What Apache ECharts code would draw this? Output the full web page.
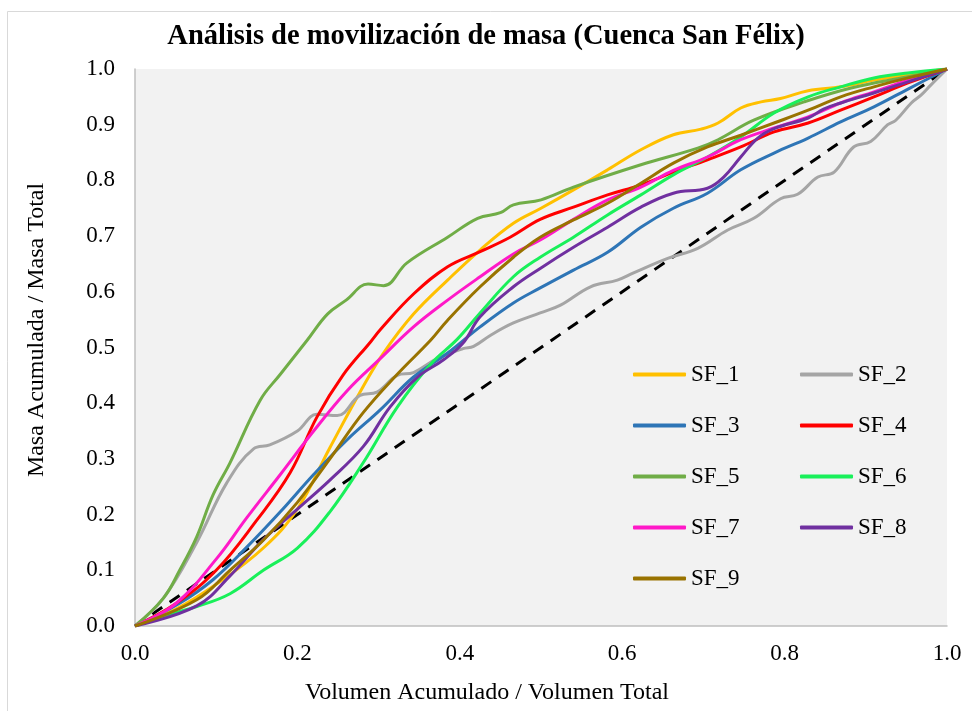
<!DOCTYPE html>
<html><head><meta charset="utf-8">
<script src="https://cdn.jsdelivr.net/npm/echarts@6/dist/echarts.min.js"></script>
<style>html,body{margin:0;padding:0;background:#fff}#c{width:972px;height:711px}</style>
</head><body><div id="c"></div>
<script>
const titleText = 'Análisis de movilización de masa (Cuenca San Félix)';
const xName = 'Volumen Acumulado / Volumen Total';
const yName = 'Masa Acumulada / Masa Total';
const seriesNames = ['SF_1','SF_2','SF_3','SF_4','SF_5','SF_6','SF_7','SF_8','SF_9'];
const legendLeftCol = ['SF_1','SF_3','SF_5','SF_7','SF_9'];
const legendRightCol = ['SF_2','SF_4','SF_6','SF_8'];
const colors = ['#FFC000','#A5A5A5','#2E75B6','#FF0000','#70AD47','#19F05A','#FF19C8','#7030A0','#997300'];

const sf1 = [[0,0],[0.05,0.03],[0.1,0.075],[0.158,0.14],[0.2,0.21],[0.24,0.32],[0.281,0.43],[0.306,0.49],[0.343,0.56],[0.385,0.621],[0.425,0.675],[0.466,0.723],[0.5,0.75],[0.54,0.783],[0.582,0.819],[0.623,0.855],[0.663,0.882],[0.697,0.892],[0.718,0.903],[0.746,0.93],[0.771,0.941],[0.795,0.947],[0.829,0.961],[0.869,0.968],[0.91,0.98],[0.952,0.99],[1,1]];
const sf2 = [[0,0],[0.035,0.05],[0.076,0.15],[0.113,0.257],[0.146,0.318],[0.166,0.325],[0.2,0.35],[0.224,0.38],[0.249,0.378],[0.277,0.414],[0.298,0.42],[0.323,0.45],[0.343,0.455],[0.372,0.48],[0.404,0.498],[0.417,0.502],[0.438,0.522],[0.466,0.544],[0.499,0.562],[0.524,0.576],[0.561,0.609],[0.594,0.621],[0.614,0.634],[0.656,0.66],[0.693,0.678],[0.73,0.711],[0.762,0.732],[0.795,0.767],[0.816,0.775],[0.841,0.806],[0.861,0.815],[0.885,0.86],[0.906,0.87],[0.927,0.9],[0.937,0.908],[0.956,0.939],[0.968,0.953],[0.98,0.971],[1,1]];
const sf3 = [[0,0],[0.055,0.041],[0.096,0.083],[0.138,0.142],[0.179,0.205],[0.22,0.272],[0.261,0.334],[0.302,0.388],[0.343,0.447],[0.385,0.49],[0.425,0.537],[0.466,0.58],[0.499,0.607],[0.54,0.639],[0.582,0.671],[0.623,0.716],[0.663,0.75],[0.705,0.777],[0.746,0.819],[0.787,0.849],[0.829,0.876],[0.869,0.905],[0.91,0.932],[0.952,0.964],[1,1]];
const sf4 = [[0,0],[0.05,0.04],[0.1,0.1],[0.15,0.19],[0.191,0.275],[0.224,0.375],[0.256,0.45],[0.29,0.51],[0.302,0.532],[0.343,0.596],[0.385,0.645],[0.425,0.672],[0.462,0.698],[0.499,0.73],[0.54,0.752],[0.582,0.774],[0.623,0.792],[0.663,0.815],[0.705,0.837],[0.746,0.86],[0.787,0.887],[0.829,0.903],[0.869,0.926],[0.91,0.95],[0.952,0.975],[1,1]];
const sf5 = [[0,0],[0.035,0.05],[0.055,0.1],[0.076,0.16],[0.096,0.235],[0.117,0.293],[0.154,0.405],[0.179,0.452],[0.212,0.513],[0.237,0.56],[0.26,0.585],[0.287,0.614],[0.306,0.611],[0.335,0.652],[0.385,0.698],[0.422,0.732],[0.45,0.742],[0.466,0.756],[0.5,0.765],[0.54,0.788],[0.623,0.828],[0.693,0.858],[0.718,0.873],[0.762,0.908],[0.824,0.941],[0.882,0.966],[0.952,0.986],[1,1]];
const sf6 = [[0,0],[0.035,0.018],[0.076,0.035],[0.117,0.058],[0.158,0.1],[0.2,0.14],[0.24,0.205],[0.281,0.293],[0.323,0.393],[0.364,0.47],[0.397,0.515],[0.425,0.562],[0.466,0.627],[0.499,0.662],[0.54,0.698],[0.582,0.738],[0.623,0.774],[0.663,0.81],[0.705,0.842],[0.746,0.878],[0.787,0.921],[0.829,0.95],[0.869,0.968],[0.91,0.984],[0.952,0.993],[1,1]];
const sf7 = [[0,0],[0.05,0.04],[0.1,0.12],[0.138,0.195],[0.179,0.272],[0.22,0.35],[0.261,0.422],[0.302,0.48],[0.343,0.537],[0.385,0.585],[0.425,0.627],[0.466,0.668],[0.499,0.693],[0.54,0.73],[0.582,0.765],[0.623,0.788],[0.663,0.818],[0.705,0.842],[0.746,0.873],[0.787,0.894],[0.829,0.914],[0.869,0.939],[0.91,0.959],[0.952,0.98],[1,1]];
const sf8 = [[0,0],[0.076,0.036],[0.117,0.09],[0.158,0.155],[0.2,0.21],[0.24,0.262],[0.281,0.322],[0.314,0.393],[0.348,0.447],[0.38,0.478],[0.404,0.508],[0.425,0.555],[0.466,0.609],[0.499,0.642],[0.54,0.68],[0.582,0.716],[0.623,0.752],[0.663,0.777],[0.705,0.786],[0.725,0.806],[0.746,0.842],[0.767,0.876],[0.787,0.893],[0.829,0.912],[0.848,0.928],[0.869,0.939],[0.91,0.957],[0.952,0.977],[1,1]];
const sf9 = [[0,0],[0.076,0.047],[0.117,0.1],[0.158,0.154],[0.2,0.222],[0.24,0.3],[0.281,0.383],[0.323,0.452],[0.364,0.513],[0.385,0.549],[0.425,0.609],[0.466,0.662],[0.499,0.698],[0.54,0.729],[0.582,0.759],[0.623,0.795],[0.663,0.831],[0.705,0.86],[0.746,0.881],[0.787,0.903],[0.829,0.926],[0.869,0.95],[0.91,0.968],[0.952,0.984],[1,1]];
const reference = [[0,0],[1,1]];

const allData = [sf1,sf2,sf3,sf4,sf5,sf6,sf7,sf8,sf9];
const font = '"Liberation Serif", "Times New Roman", serif';

const chart = echarts.init(document.getElementById('c'));
const series = [{
  name: 'ref', type: 'line', data: reference, symbol: 'none', silent: true,
  lineStyle: {color: '#000', width: 3, type: [12, 9]}
}];
seriesNames.forEach((n, i) => series.push({
  name: n, type: 'line', data: allData[i], symbol: 'none', smooth: 0.4,
  lineStyle: {color: colors[i], width: 3}, itemStyle: {color: colors[i]}
}));
const legendCommon = {
  orient: 'vertical', top: 358, itemWidth: 53, itemHeight: 4, itemGap: 28,
  icon: 'roundRect',
  textStyle: {fontFamily: font, fontSize: 23, color: '#000'}
};
chart.setOption({
  backgroundColor: '#fff',
  animation: false,
  title: {text: titleText, left: 'center', top: 17,
    textStyle: {fontFamily: font, fontSize: 28.5, fontWeight: 'bold', color: '#000'}},
  graphic: [{type: 'rect', left: 5, top: 9, shape: {width: 975, height: 720},
    style: {fill: 'none', stroke: '#D9D9D9', lineWidth: 1}, silent: true}],
  legend: [
    Object.assign({}, legendCommon, {left: 628, data: legendLeftCol}),
    Object.assign({}, legendCommon, {left: 795, data: legendRightCol})
  ],
  grid: {left: 135, top: 69, right: 25, bottom: 85, show: true, backgroundColor: '#F2F2F2', borderWidth: 0},
  xAxis: {type: 'value', min: 0, max: 1, interval: 0.2,
    name: xName, nameLocation: 'middle', nameGap: 55,
    nameTextStyle: {fontFamily: font, fontSize: 24, color: '#000', padding: [0,108,0,0]},
    axisLine: {show: true, lineStyle: {color: '#BFBFBF', width: 1.5}}, axisTick: {show: false},
    splitLine: {show: false},
    axisLabel: {fontFamily: font, fontSize: 23, color: '#000', margin: 16, formatter: v => v.toFixed(1)}},
  yAxis: {type: 'value', min: 0, max: 1, interval: 0.1,
    name: yName, nameLocation: 'middle', nameGap: 86,
    nameTextStyle: {fontFamily: font, fontSize: 24, color: '#000', padding: [0,0,0,35]},
    axisLine: {show: true, lineStyle: {color: '#BFBFBF', width: 1.5}}, axisTick: {show: false},
    splitLine: {show: false},
    axisLabel: {fontFamily: font, fontSize: 23, color: '#000', margin: 20, formatter: v => v.toFixed(1)}},
  series: series
});
</script></body></html>
